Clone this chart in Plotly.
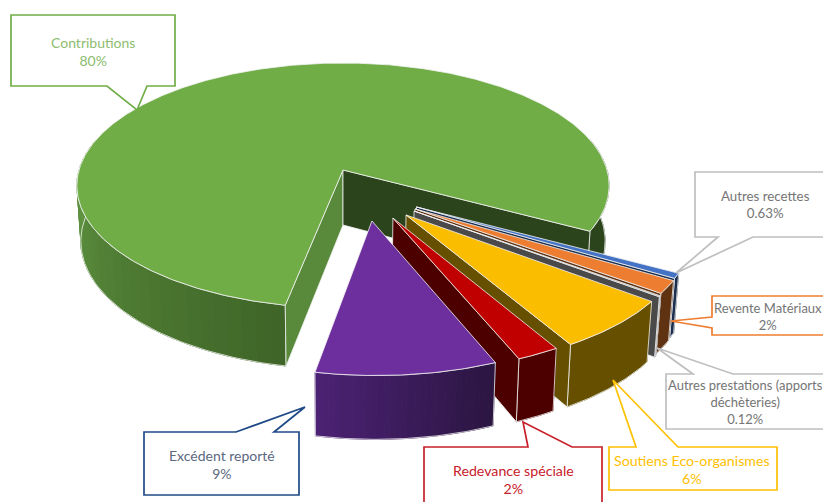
import numpy as np
import plotly.graph_objects as go

# ---- chart data (clockwise from the back-right edge of the big slice) ----
labels = ["Autres recettes", "Revente Matériaux", "Autres prestations (apports<br>déchèteries)",
          "Soutiens Eco-organismes", "Redevance spéciale", "Excédent reporté", "Contributions"]
values = [0.63, 1.6, 0.12, 6.4, 2.2, 9.2, 79.85]
pct_labels = ["0.63%", "2%", "0.12%", "6%", "2%", "9%", "80%"]

# ---- styling ----
top_colors = ["#4472C4", "#ED7D31", "#A5A5A5", "#FBBD00", "#C00000", "#6C2F9D", "#70AD47"]
wall_near = ["#1B2E4E", "#5F3212", "#4A4A4A", "#665000", "#4D0000", "#4C2274", "#659C45"]
wall_far = ["#1B2E4E", "#5F3212", "#4A4A4A", "#665000", "#4D0000", "#2A1540", "#3E6427"]
radial_colors = ["#1B2E4E", "#5F3212", "#4A4A4A", "#665000", "#4D0000", "#4D0000", "#2B441C"]
explode_u = [0.268, 0.262, 0.258, 0.228, 0.180, 0.104, 0.0]
explode_v = [-0.295, -0.310, -0.326, -0.356, -0.379, -0.401, 0.0]
FONT = "Lato"

CX, CY, B, A, P, S, DEPTH = 343, 170, 264, 120.6, 0.127, 0.985, 55
START = 118.5


def project(u, v, bottom=False):
    u, v = np.asarray(u, float), np.asarray(v, float)
    w = 1 + P * v
    if bottom:
        return CX + S * B * u / w, CY - S * A * v / w + DEPTH / w
    return CX + B * u / w, CY - A * v / w


def mix(c1, c2, t):
    a = [int(c1[i:i + 2], 16) for i in (1, 3, 5)]
    b = [int(c2[i:i + 2], 16) for i in (1, 3, 5)]
    return "#%02X%02X%02X" % tuple(round(x + (y - x) * t) for x, y in zip(a, b))


fig = go.Figure()


def poly(x, y, fill=None, line="#FFFFFF", width=1.0):
    fig.add_trace(go.Scatter(
        x=list(x), y=list(y), mode="lines", hoverinfo="skip", showlegend=False,
        fill="toself" if fill else "none", fillcolor=fill,
        line=dict(color=line, width=width)))


def draw_slice(i, t0, t1):
    eu, ev = explode_u[i], explode_v[i]
    big = t1 - t0 > 180
    th = np.radians(np.linspace(t0, t1, max(int((t1 - t0) * 2), 4) + 1))
    au, av = eu + np.sin(th), ev + np.cos(th)
    # outer wall, split into shaded strips (only the viewer-facing side)
    if big:
        groups = [(np.radians(np.linspace(t0, 285, 95)), wall_far[i], wall_near[i]),
                  (np.radians(np.linspace(75 + 360, t1, 31)), "#2B441C", "#2B441C")]
    else:
        groups = [(th, wall_far[i], wall_near[i])]
    for g, c0, c1 in groups:
        n = 30 if c0 != c1 else 1
        edges = np.linspace(0, len(g) - 1, n + 1).astype(int)
        for k in range(n):
            seg = g[edges[k]:edges[k + 1] + 1]
            su, sv = eu + np.sin(seg), ev + np.cos(seg)
            xt, yt = project(su, sv)
            xb, yb = project(su, sv, True)
            col = mix(c0, c1, (k + 0.5) / n)
            poly(np.r_[xt, xb[::-1], xt[0]], np.r_[yt, yb[::-1], yt[0]], col, col, 1.0)
        su, sv = eu + np.sin(g), ev + np.cos(g)
        xt, yt = project(su, sv)
        xb, yb = project(su, sv, True)
        poly(np.r_[xt, xb[::-1], xt[0]], np.r_[yt, yb[::-1], yt[0]], None, "#F2F2F2", 0.8)
    # radial walls: a wall is only seen when it faces the viewer
    edge_list = [(t0, "#598A3B"), (t1, radial_colors[i])] if big else (
        [(t1, radial_colors[i])] if t1 < 180 else [])
    for t, col in edge_list:
        r = np.radians(t)
        us, vs = np.array([eu, eu + np.sin(r)]), np.array([ev, ev + np.cos(r)])
        xt, yt = project(us, vs)
        xb, yb = project(us, vs, True)
        poly(np.r_[xt, xb[::-1], xt[0]], np.r_[yt, yb[::-1], yt[0]], col, "#F2F2F2", 0.8)
    # top face
    xa, ya = project(np.r_[eu, au, eu], np.r_[ev, av, ev])
    poly(xa, ya, top_colors[i], "#F2F2F2", 0.8)


total = sum(values)
spans = [v / total * 360 for v in values]
starts = START + np.r_[0, np.cumsum(spans)[:-1]]
# the big slice is at the back, so it is painted first
draw_slice(6, starts[6], starts[6] + spans[6])
for i in range(6):
    draw_slice(i, starts[i], starts[i] + spans[i])


# ---- callouts ----
def callout(box, base, tip, color):
    x0, y0, x1, y1 = box
    (bx0, by0), (bx1, by1) = base
    side_top = by0 == y0 and by1 == y0
    side_bottom = by0 == y1 and by1 == y1
    if side_top:
        p = [(x0, y0), (bx0, y0), tip, (bx1, y0), (x1, y0), (x1, y1), (x0, y1)]
    elif side_bottom:
        p = [(x0, y0), (x1, y0), (x1, y1), (bx1, y1), tip, (bx0, y1), (x0, y1)]
    else:
        p = [(x0, y0), (x1, y0), (x1, y1), (x0, y1), (x0, by1), tip, (x0, by0)]
    path = "M " + " L ".join(f"{a},{b}" for a, b in p) + " Z"
    fig.add_shape(type="path", path=path, xref="x", yref="y",
                  fillcolor="#FFFFFF", line=dict(color=color, width=1.7))


def text(x, y, s, color, size=13.3):
    fig.add_annotation(x=x, y=y, text=s, showarrow=False, xref="x", yref="y",
                       xanchor="center", yanchor="middle",
                       font=dict(family=FONT, size=size, color=color), align="center")


GREY = "#BFBFBF"
callout((11, 15, 175, 86), ((107, 86), (147, 86)), (137, 110), "#70AD47")
callout((695, 172, 840, 237), ((718, 237), (753, 237)), (676, 273), GREY)
callout((712, 296, 840, 335), ((712, 317), (712, 328)), (671, 321), "#ED7D31")
callout((666, 374, 840, 429), ((693, 374), (733, 374)), (657, 348), GREY)
callout((609, 447, 777, 490), ((636, 447), (678, 447)), (613, 380), "#FFC000")
callout((424, 447, 602, 520), ((528, 447), (572, 447)), (523, 422), "#C8202A")
callout((144, 432, 299, 495), ((236, 432), (274, 432)), (305, 407), "#1F4A86")

T = "<br>"
text(93, 51, labels[6] + T + pct_labels[6], "#8CBD6E", 14)
text(765, 204, labels[0] + T + pct_labels[0], "#757575")
text(768, 316, labels[1] + T + pct_labels[1], "#757575", 13)
text(745, 402, labels[2] + T + pct_labels[2], "#757575", 13)
text(692, 469, labels[3] + T + pct_labels[3], "#FFC000", 14.2)
text(513, 479, labels[4] + T + pct_labels[4], "#C8202A", 14.2)
text(222, 464, labels[5] + T + pct_labels[5], "#5B6880", 14)

fig.update_layout(
    width=823, height=502, margin=dict(l=0, r=0, t=0, b=0),
    paper_bgcolor="#FFFFFF", plot_bgcolor="#FFFFFF", showlegend=False,
    xaxis=dict(range=[0, 823], visible=False, fixedrange=True),
    yaxis=dict(range=[502, 0], visible=False, fixedrange=True),
)
fig.write_html("out.html", config={"displayModeBar": False},
               post_script="document.body.style.margin='0';")
